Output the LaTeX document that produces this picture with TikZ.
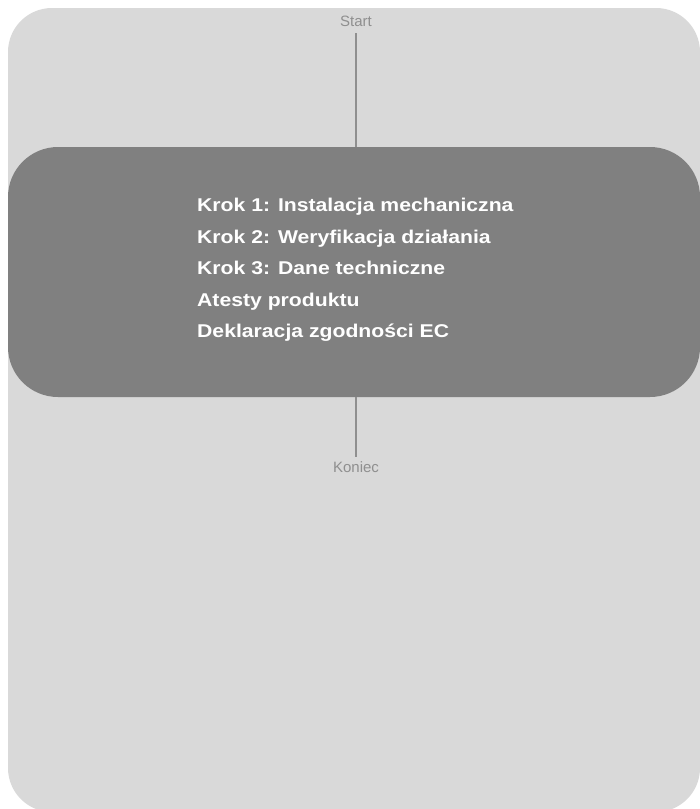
\documentclass[tikz,border=0pt]{standalone}
\usepackage{fontspec}
\setmainfont{Liberation Sans}
\newfontfamily\stepfont[FakeStretch=1.145]{Liberation Sans}
\usepackage{xcolor}
\definecolor{panelgrey}{HTML}{D9D9D9}
\definecolor{boxgrey}{HTML}{808080}
\definecolor{linegrey}{HTML}{8F8F8F}
\usetikzlibrary{positioning}

\begin{document}
\begin{tikzpicture}[x=1pt,y=-1pt,
		endlabel/.style={text=linegrey, font=\fontsize{15}{17}\selectfont, inner sep=0pt, outer sep=4pt},
		conn/.style={draw=linegrey, line width=2.7pt}]
		\useasboundingbox (0,0) rectangle (700,809);
		\clip (0,0) rectangle (700,809);
		\fill[panelgrey, rounded corners=44pt] (8,8) rectangle (700,812);

		\node[fill=boxgrey, rounded corners=50pt, minimum width=692pt, minimum height=250pt, inner sep=0pt] (box) at (354,272) {};

		\node[anchor=west, align=left, text=white, font=\stepfont\bfseries\fontsize{18.5}{31.5}\selectfont, inner sep=0pt] (steps) at (197,270) {Krok 1: Instalacja mechaniczna\\ Krok 2: Weryfikacja działania\\ Krok 3: Dane techniczne\\ Atesty produktu\\ Deklaracja zgodności EC};

		\node[endlabel, outer sep=7pt] (start) at (356,21) {Start};
		\node[endlabel] (koniec) at (356,467) {Koniec};

		\draw[conn] (start.south) -- (start.south |- box.north);
		\draw[conn] (koniec.north |- box.south) -- (koniec.north);
	\end{tikzpicture}
\end{document}
